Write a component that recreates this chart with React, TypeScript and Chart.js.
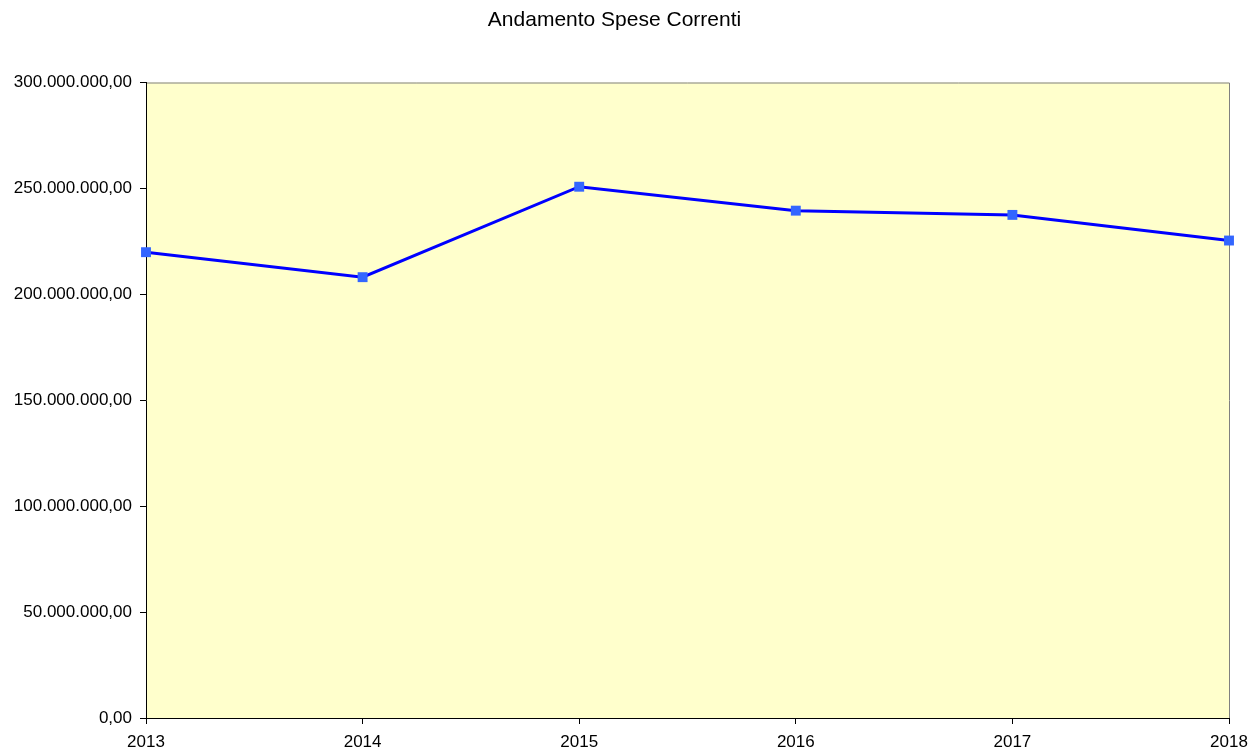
import React, { useEffect, useRef } from "react";
import { Chart, registerables } from "chart.js";

Chart.register(...registerables);

const categories = ["2013", "2014", "2015", "2016", "2017", "2018"];
const spese = [219900000, 208100000, 250800000, 239500000, 237500000, 225400000];
const yTicks = [0, 50000000, 100000000, 150000000, 200000000, 250000000, 300000000];
const titleText = "Andamento Spese Correnti";

function formatIt(v: number): string {
  const intPart = Math.round(Math.abs(v)).toString().replace(/\B(?=(\d{3})+(?!\d))/g, ".");
  return (v < 0 ? "-" : "") + intPart + ",00";
}

const plotBg = {
  id: "plotBg",
  beforeDraw(chart: any) {
    const { ctx, chartArea } = chart;
    if (!chartArea) return;
    ctx.save();
    ctx.fillStyle = "#FFFFCC";
    ctx.fillRect(chartArea.left, chartArea.top, chartArea.right - chartArea.left, chartArea.bottom - chartArea.top);
    ctx.strokeStyle = "#808080";
    ctx.lineWidth = 1;
    ctx.beginPath();
    ctx.moveTo(chartArea.left, chartArea.top + 0.5);
    ctx.lineTo(chartArea.right + 0.5, chartArea.top + 0.5);
    ctx.lineTo(chartArea.right + 0.5, chartArea.bottom);
    ctx.stroke();
    ctx.restore();
  },
};

const FONT = "Liberation Sans, Arial, sans-serif";

export default function App() {
  const ref = useRef<HTMLCanvasElement | null>(null);
  useEffect(() => {
    document.body.style.margin = "0";
    if (!ref.current) return;
    const chart = new Chart(ref.current, {
      type: "line",
      data: {
        labels: categories,
        datasets: [
          {
            label: "Spese Correnti",
            data: spese,
            borderColor: "#0000FF",
            borderWidth: 3,
            pointStyle: "rect",
            pointRadius: 7,
            pointHoverRadius: 7,
            pointBackgroundColor: "#3366FF",
            pointBorderWidth: 0,
            tension: 0,
            clip: false as any,
          },
        ],
      },
      options: {
        responsive: false,
        animation: false,
        layout: { padding: { top: 8, right: 30, left: 0, bottom: 0 } },
        plugins: {
          legend: { display: false },
          tooltip: { enabled: false },
          title: {
            display: true,
            text: titleText,
            color: "#000",
            font: { family: FONT, size: 21, weight: "normal" as any },
            padding: { top: 0, bottom: 49.3 },
          },
        },
        scales: {
          x: {
            offset: false,
            grid: { display: true, drawOnChartArea: false, drawTicks: true, tickLength: 6, color: "#000" },
            border: { display: true, color: "#000", width: 1 },
            ticks: {
              color: "#000",
              font: { family: FONT, size: 17 },
              padding: 8,
              maxRotation: 0,
              autoSkip: false,
            },
            afterFit(scale: any) {
              scale.height = 36;
            },
          },
          y: {
            min: 0,
            max: 300000000,
            afterBuildTicks(scale: any) {
              scale.ticks = yTicks.map((v) => ({ value: v }));
            },
            grid: { display: true, drawOnChartArea: false, drawTicks: true, tickLength: 6, color: "#000" },
            border: { display: true, color: "#000", width: 1 },
            ticks: {
              color: "#000",
              font: { family: FONT, size: 17 },
              padding: 8,
              callback: (v: any) => formatIt(Number(v)),
            },
            afterFit(scale: any) {
              scale.width = 146;
            },
          },
        },
      },
      plugins: [plotBg],
    });
    return () => chart.destroy();
  }, []);
  return (
    <div style={{ position: "fixed", left: 0, top: 0, width: 1259, height: 754, background: "#fff" }}>
      <canvas ref={ref} width={1259} height={754} style={{ display: "block" }} />
    </div>
  );
}
